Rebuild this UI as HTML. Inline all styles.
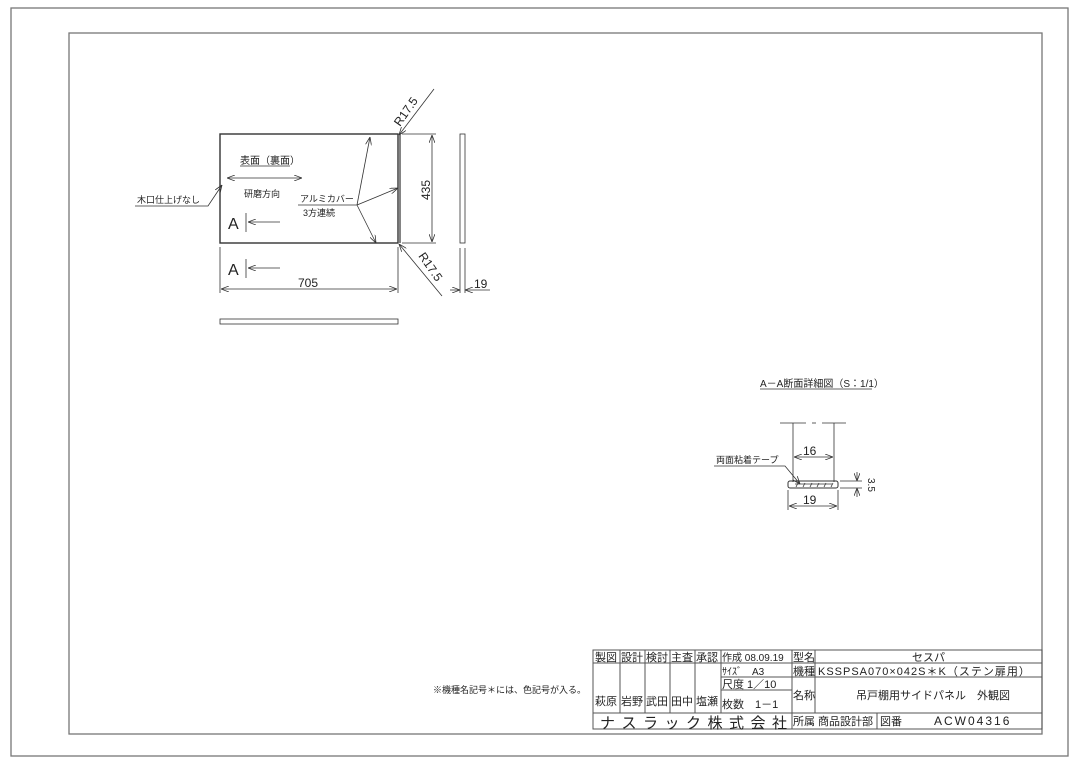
<!DOCTYPE html>
<html><head><meta charset="utf-8"><style>
html,body{margin:0;padding:0;background:#fff;}
svg{display:block;}
text{font-family:"Liberation Sans","Noto Sans CJK JP",sans-serif;fill:#222;}
</style></head><body>
<svg width="1080" height="764" viewBox="0 0 1080 764" xmlns="http://www.w3.org/2000/svg">
<defs>
<marker id="ar" markerWidth="8" markerHeight="6" refX="8" refY="3" orient="auto-start-reverse" markerUnits="userSpaceOnUse"><path d="M0,0 L8,3 L0,6" fill="none" stroke="#333" stroke-width="0.8"/></marker>
</defs>
<g fill="none" stroke="#777" stroke-width="1.3">
<rect x="11" y="8" width="1057" height="748"/>
<rect x="69" y="33" width="973" height="701"/>
</g>
<g fill="none" stroke="#333" stroke-width="0.8">
<rect x="220" y="134" width="178" height="109" stroke-width="1.4"/>
<line x1="400" y1="134" x2="400" y2="243" stroke-width="1.2"/>
<line x1="220" y1="247" x2="220" y2="293"/>
<line x1="398" y1="247" x2="398" y2="293"/>
<line x1="221" y1="289" x2="397" y2="289" marker-end="url(#ar)" marker-start="url(#ar)"/>
<line x1="246" y1="213" x2="246" y2="232"/>
<line x1="280" y1="222" x2="248" y2="222" marker-end="url(#ar)"/>
<line x1="246" y1="259" x2="246" y2="278"/>
<line x1="280" y1="268" x2="248" y2="268" marker-end="url(#ar)"/>
<line x1="227" y1="178" x2="302" y2="178" marker-end="url(#ar)" marker-start="url(#ar)"/>
<line x1="240" y1="166" x2="290" y2="166"/>
<polyline points="135,206 208,206 222,185" marker-end="url(#ar)"/>
<line x1="298" y1="205" x2="357" y2="205"/>
<line x1="357" y1="205" x2="370" y2="137" marker-end="url(#ar)"/>
<line x1="357" y1="205" x2="398" y2="188" marker-end="url(#ar)"/>
<line x1="357" y1="205" x2="376" y2="243" marker-end="url(#ar)"/>
<line x1="402" y1="134" x2="436" y2="134"/>
<line x1="402" y1="243" x2="436" y2="243"/>
<line x1="432" y1="135" x2="432" y2="242" marker-end="url(#ar)" marker-start="url(#ar)"/>
<line x1="434" y1="89" x2="399" y2="135" marker-end="url(#ar)"/>
<line x1="442" y1="296" x2="399" y2="244" marker-end="url(#ar)"/>
<rect x="460" y="134" width="5" height="109"/>
<line x1="460" y1="248" x2="460" y2="293"/>
<line x1="465" y1="248" x2="465" y2="293"/>
<line x1="450" y1="290" x2="460" y2="290" marker-end="url(#ar)"/>
<line x1="490" y1="290" x2="465" y2="290" marker-end="url(#ar)"/>
<rect x="220" y="319" width="178" height="5"/>
<line x1="760" y1="389" x2="872" y2="389"/>
<line x1="780" y1="423" x2="806" y2="423"/>
<line x1="812" y1="423" x2="816" y2="423"/>
<line x1="822" y1="423" x2="846" y2="423"/>
<line x1="793" y1="423" x2="793" y2="482"/>
<line x1="834" y1="423" x2="834" y2="482"/>
<line x1="794" y1="457" x2="833" y2="457" marker-end="url(#ar)" marker-start="url(#ar)"/>
<rect x="788" y="481" width="50" height="7" rx="2" stroke-width="1"/>
<path d="M796,487 l2,-4 M803,487 l2,-4 M810,487 l2,-4 M817,487 l2,-4 M824,487 l2,-4 M831,487 l2,-4"/>
<line x1="795" y1="484" x2="832" y2="484"/>
<line x1="788" y1="490" x2="788" y2="510"/>
<line x1="838" y1="490" x2="838" y2="510"/>
<line x1="789" y1="506" x2="837" y2="506" marker-end="url(#ar)" marker-start="url(#ar)"/>
<line x1="840" y1="481" x2="862" y2="481"/>
<line x1="840" y1="488" x2="862" y2="488"/>
<line x1="857" y1="472" x2="857" y2="481" marker-end="url(#ar)"/>
<line x1="857" y1="497" x2="857" y2="488" marker-end="url(#ar)"/>
<polyline points="714,466 785,466 800,484" marker-end="url(#ar)"/>
<g stroke="#555" stroke-width="1">
<rect x="593" y="650" width="449" height="79"/>
<line x1="593" y1="663" x2="1042" y2="663"/>
<line x1="721" y1="677" x2="1042" y2="677"/>
<line x1="721" y1="690" x2="792" y2="690"/>
<line x1="593" y1="713" x2="1042" y2="713"/>
<line x1="620" y1="650" x2="620" y2="713"/>
<line x1="645" y1="650" x2="645" y2="713"/>
<line x1="670" y1="650" x2="670" y2="713"/>
<line x1="695" y1="650" x2="695" y2="713"/>
<line x1="721" y1="650" x2="721" y2="713"/>
<line x1="792" y1="650" x2="792" y2="729"/>
<line x1="815" y1="650" x2="815" y2="713"/>
<line x1="877" y1="713" x2="877" y2="729"/>
</g>
</g>
<g>
<text x="240" y="164" font-size="10">表面（裏面）</text>
<text x="244" y="197" font-size="9">研磨方向</text>
<text x="137" y="203" font-size="9">木口仕上げなし</text>
<text x="300" y="202" font-size="9">アルミカバー</text>
<text x="303" y="216" font-size="9">3方連続</text>
<text x="228" y="229" font-size="16">A</text>
<text x="228" y="275" font-size="16">A</text>
<text x="298" y="287" font-size="12">705</text>
<text x="474" y="288" font-size="12">19</text>
<text x="0" y="0" font-size="12" transform="translate(430,200) rotate(-90)">435</text>
<text x="0" y="0" font-size="12" transform="translate(400,127) rotate(-55)">R17.5</text>
<text x="0" y="0" font-size="12" transform="translate(418,256) rotate(55)">R17.5</text>
<text x="760" y="387" font-size="10">A－A断面詳細図（S：1/1）</text>
<text x="803" y="455" font-size="12">16</text>
<text x="803" y="504" font-size="12">19</text>
<text x="0" y="0" font-size="10" transform="translate(868,478) rotate(90)">3.5</text>
<text x="716" y="463" font-size="9">両面粘着テープ</text>
<text x="433" y="693" font-size="9">※機種名記号＊には、色記号が入る。</text>
<text x="595" y="661" font-size="11">製図</text>
<text x="621" y="661" font-size="11">設計</text>
<text x="646" y="661" font-size="11">検討</text>
<text x="671" y="661" font-size="11">主査</text>
<text x="696" y="661" font-size="11">承認</text>
<text x="722" y="661" font-size="10">作成 08.09.19</text>
<text x="793" y="661" font-size="11">型名</text>
<text x="912" y="661" font-size="11">セスパ</text>
<text x="722" y="675" font-size="10">ｻｲｽﾞ　A3</text>
<text x="793" y="675" font-size="11">機種</text>
<text x="818" y="675" font-size="11" letter-spacing="1">KSSPSA070×042S＊K（ステン扉用）</text>
<text x="722" y="688" font-size="11">尺度 1／10</text>
<text x="722" y="708" font-size="11">枚数　1－1</text>
<text x="595" y="705" font-size="11">萩原</text>
<text x="621" y="705" font-size="11">岩野</text>
<text x="646" y="705" font-size="11">武田</text>
<text x="671" y="705" font-size="11">田中</text>
<text x="696" y="705" font-size="11">塩瀬</text>
<text x="793" y="699" font-size="11">名称</text>
<text x="856" y="699" font-size="11">吊戸棚用サイドパネル　外観図</text>
<text x="600" y="728" font-size="15" letter-spacing="6.5">ナスラック株式会社</text>
<text x="793" y="725" font-size="11">所属 商品設計部</text>
<text x="880" y="725" font-size="11">図番</text>
<text x="934" y="725" font-size="12" letter-spacing="2">ACW04316</text>
</g>
</svg>
</body></html>
